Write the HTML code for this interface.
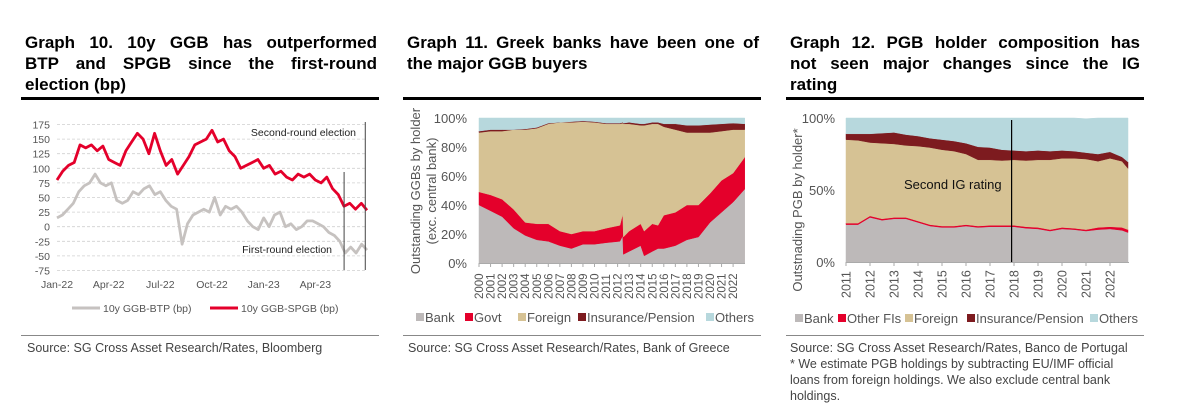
<!DOCTYPE html>
<html><head><meta charset="utf-8"><style>
body{margin:0;width:1192px;height:418px;background:#fff;overflow:hidden;font-family:"Liberation Sans",sans-serif;}
.t{position:absolute;font-weight:bold;font-size:17px;line-height:21px;color:#000;top:32px;}
.t div{text-align:justify;text-align-last:justify;white-space:nowrap;}
.t div.last{text-align-last:left;}
.rule{position:absolute;height:3px;background:#000;top:97px;}
.brule{position:absolute;height:1px;background:#888;top:335px;}
.src{position:absolute;top:340px;font-size:12.5px;line-height:16px;color:#444;}
svg{position:absolute;left:0;top:0;}
</style></head><body>
<div class="t" style="left:25px;width:352px"><div>Graph 10. 10y GGB has outperformed</div><div>BTP and SPGB since the first-round</div><div class="last">election (bp)</div></div>
<div class="t" style="left:407px;width:352px"><div>Graph 11. Greek banks have been one of</div><div class="last">the major GGB buyers</div></div>
<div class="t" style="left:790px;width:350px"><div>Graph 12. PGB holder composition has</div><div>not seen major changes since the IG</div><div class="last">rating</div></div>
<div class="rule" style="left:21px;width:358px"></div>
<div class="rule" style="left:403px;width:358px"></div>
<div class="rule" style="left:786px;width:358px"></div>
<div class="brule" style="left:21px;width:358px"></div>
<div class="brule" style="left:403px;width:358px"></div>
<div class="brule" style="left:786px;width:358px"></div>
<div class="src" style="left:27px">Source: SG Cross Asset Research/Rates, Bloomberg</div>
<div class="src" style="left:408px">Source: SG Cross Asset Research/Rates, Bank of Greece</div>
<div class="src" style="left:790px;width:350px">Source: SG Cross Asset Research/Rates, Banco de Portugal<br>* We estimate PGB holdings by subtracting EU/IMF official loans from foreign holdings. We also exclude central bank holdings.</div>
<svg id="svg" width="1192" height="418" xmlns="http://www.w3.org/2000/svg"></svg>
<script>
// Chart 1 data (biweekly, Jan-22 .. Jun-23)
const c1Spgb=[80,95,105,110,140,135,140,130,138,115,110,105,130,145,160,150,125,160,130,105,115,90,105,120,140,145,150,165,145,150,130,120,100,105,110,115,100,105,90,95,85,80,90,85,90,80,75,85,65,55,35,40,30,40,28];
const c1Btp=[15,20,30,40,60,70,75,90,75,70,75,45,40,45,60,55,65,70,55,60,45,35,30,-30,5,20,25,30,25,50,20,35,30,35,25,10,0,-5,15,0,20,25,0,5,-5,0,10,10,5,0,-10,-15,-25,-45,-35,-45,-30,-40];
const c1Ticks=[175,150,125,100,75,50,25,0,-25,-50,-75];
const c1Months=["Jan-22","Apr-22","Jul-22","Oct-22","Jan-23","Apr-23"];
const c1Events=[{label:"First-round election",m:16.67},{label:"Second-round election",m:17.9}];
// Chart 2 data
const c2Years=[2000,2001,2002,2003,2004,2005,2006,2007,2008,2009,2010,2011,2012,2013,2014,2015,2016,2017,2018,2019,2020,2021,2022];
const c2T=[2000,2001,2002,2003,2004,2005,2006,2007,2008,2009,2010,2011,2012.2,2012.45,2012.5,2013,2014,2014.3,2015,2015.5,2016,2017,2018,2019,2020,2021,2022,2023];
const c2Bank=[40,36,32,24,19,16,15,12,10,13,13,14,15,19,6,8,12,5,8,10,10,12,16,18,28,35,42,51];
const c2Govt=[9,11,12,13,9,11,12,10,10,9,9,10,11,15,12,14,15,17,19,16,23,23,24,22,20,22,20,22];
const c2Foreign=[41,44,47,55,64,66,69,75,77,75.5,75,72,70,62.5,78,74,68,73,69,70,61,57,50,50,42,34,30,19];
const c2Ins=[1,1,1,0,0.5,0.5,0.5,0,0.5,0.5,0.5,0.5,0.5,0.5,0.5,1,1,1,1,1,2,4,5,5,5.5,5,4.5,4];
const c2Others=[9,8,8,8,7.5,6.5,3.5,3,2.5,2,2.5,3.5,3.5,3,3.5,3,4,4,3,3,4,4,5,5,4.5,4,3.5,4];
// Chart 3 data
const c3Years=[2011,2012,2013,2014,2015,2016,2017,2018,2019,2020,2021,2022];
const c3T=[2011,2011.5,2012,2012.5,2013,2013.5,2014,2014.5,2015,2015.5,2016,2016.5,2017,2017.5,2018,2018.5,2019,2019.5,2020,2020.5,2021,2021.5,2022,2022.5,2022.75];
const c3Bank=[26,26,31,29,30,30,27.5,25,24,24,25,24,24.5,24.5,24.5,23.5,23,21.5,23,22.5,21.5,22.5,23,22,20.5];
const c3Fi=[1,1,1,1,1,1,1,1,1,1,1,1,1,1,1,1,1,1,1,1,1,1.5,1.5,2,2];
const c3Foreign=[58,57.5,51,52.5,51,50,52,53.5,53,52,49,46,45.5,45,45.5,46,47,48.5,48,48.5,49,46,47.5,46,42.5];
const c3Ins=[4,4.5,6,7,8,7.5,7,6.5,7,7,7.5,9,8.5,7.5,6.5,6.5,6.5,6,5.5,5,4.5,5,4.5,3,4.5];
const c3Others=[11,11,11,10.5,10,11.5,12.5,14,15,16,17.5,20,20.5,22,22.5,23,22.5,23,22.5,23,23.5,25,23.5,27,30.5];

const NS="http://www.w3.org/2000/svg",svg=document.getElementById('svg');
function mk(tag,attrs,parent){const e=document.createElementNS(NS,tag);for(const k in attrs)e.setAttribute(k,attrs[k]);(parent||svg).appendChild(e);return e;}
function txt(s,attrs,parent){const e=mk('text',attrs,parent);e.textContent=s;return e;}
const COL={bank:"#bdb9b9",govt:"#e4002b",foreign:"#d6c294",ins:"#7d1b1f",others:"#b7d8dd"};

// ---- Chart 1
const x1=m=>57+m*(310/18), y1=v=>226.7-v*(14.6/25);
c1Ticks.forEach(v=>{
 const g=mk('line',{x1:57,x2:367,y1:y1(v),y2:y1(v),stroke:"#d0d0d0","stroke-dasharray":"3,2","stroke-width":0.8});
 
 const t=txt(String(v),{x:50,y:y1(v)+4,"text-anchor":"end","font-size":10.5,fill:"#555"});
 
});
c1Months.forEach((s,i)=>{const t=txt(s,{x:x1(i*3),y:288,"text-anchor":"middle","font-size":10.5,fill:"#555"});
 });
function line1(arr,col,name){const d=arr.map((v,i)=>(i?'L':'M')+x1(i*18/(arr.length-1)).toFixed(1)+','+y1(v).toFixed(1)).join('');
 const p=mk('path',{d,fill:"none",stroke:col,"stroke-width":2.8,"stroke-linejoin":"round"});}
line1(c1Btp,"#c6c2c0",'btp-spread-line');
line1(c1Spgb,"#e4002b",'spgb-spread-line');
let e0=mk('line',{x1:x1(c1Events[0].m),x2:x1(c1Events[0].m),y1:172,y2:270,stroke:"#444","stroke-width":1});

let e1=mk('line',{x1:x1(c1Events[1].m),x2:x1(c1Events[1].m),y1:122,y2:270,stroke:"#444","stroke-width":1});

let a1=txt(c1Events[0].label,{x:332,y:253,"text-anchor":"end","font-size":10.5,fill:"#222"});

let a2=txt(c1Events[1].label,{x:356,y:136,"text-anchor":"end","font-size":10.5,fill:"#222"});

[[72,"#c6c2c0","10y GGB-BTP (bp)",'legend-btp'],[210,"#e4002b","10y GGB-SPGB (bp)",'legend-spgb']].forEach(([x,c,s,n])=>{
 const l=mk('line',{x1:x,x2:x+28,y1:308,y2:308,stroke:c,"stroke-width":3});
 const t=txt(s,{x:x+31,y:312,"font-size":10.5,fill:"#555"});});

// stacked area helper
function stack(T,layers,xf,yf,prefix){
 let base=T.map(()=>0);
 layers.forEach(([arr,col,name])=>{
  const top=base.map((b,i)=>b+arr[i]);
  let d=T.map((t,i)=>(i?'L':'M')+xf(t).toFixed(1)+','+yf(top[i]).toFixed(1)).join('');
  for(let i=T.length-1;i>=0;i--)d+='L'+xf(T[i]).toFixed(1)+','+yf(base[i]).toFixed(1);
  const p=mk('path',{d:d+'Z',fill:col,stroke:col,"stroke-width":0.5});
  
  base=top;});
}
function legend(items,y,prefix){items.forEach(([x,col,s])=>{
 const r=mk('rect',{x,y:y-9,width:8,height:8,fill:col});
 const t=txt(s,{x:x+9,y,"font-size":13,fill:"#555"});});}

// ---- Chart 2
const x2=t=>479+(t-2000)*11.55, y2=v=>263-v*1.45;
stack(c2T,[[c2Bank,COL.bank,'bank'],[c2Govt,COL.govt,'govt'],[c2Foreign,COL.foreign,'foreign'],[c2Ins,COL.ins,'insurance'],[c2Others,COL.others,'others']],x2,y2,'c2');
[0,20,40,60,80,100].forEach(v=>{const t=txt(v+'%',{x:467,y:y2(v)+5,"text-anchor":"end","font-size":13,fill:"#555"});
 });
mk('line',{x1:479,x2:745,y1:263.5,y2:263.5,stroke:"#aaa","stroke-width":1});
c2Years.forEach(yr=>{const x=x2(yr);mk('line',{x1:x,x2:x,y1:263,y2:267,stroke:"#aaa"});
 const t=txt(String(yr),{x:0,y:0,transform:`translate(${x+4},299) rotate(-90)`,"font-size":11.5,fill:"#555"});
 });
let yt2=txt("Outstanding GGBs by holder",{x:0,y:0,transform:"translate(420,191) rotate(-90)","text-anchor":"middle","font-size":13,fill:"#555"});

let yt2b=txt("(exc. central bank)",{x:0,y:0,transform:"translate(436,191) rotate(-90)","text-anchor":"middle","font-size":13,fill:"#555"});

legend([[416,COL.bank,"Bank"],[465,COL.govt,"Govt"],[518,COL.foreign,"Foreign"],[578,COL.ins,"Insurance/Pension"],[706,COL.others,"Others"]],322,'c2');

// ---- Chart 3
const x3=t=>846+(t-2011)*24, y3=v=>262-v*1.44;
stack(c3T,[[c3Bank,COL.bank,'bank'],[c3Fi,COL.govt,'other-fis'],[c3Foreign,COL.foreign,'foreign'],[c3Ins,COL.ins,'insurance'],[c3Others,COL.others,'others']],x3,y3,'c3');
[0,50,100].forEach(v=>{const t=txt(v+'%',{x:835,y:y3(v)+5,"text-anchor":"end","font-size":13,fill:"#555"});
 });
mk('line',{x1:846,x2:1129,y1:262.5,y2:262.5,stroke:"#aaa","stroke-width":1});
c3Years.forEach(yr=>{const x=x3(yr);mk('line',{x1:x,x2:x,y1:262,y2:266,stroke:"#aaa"});
 const t=txt(String(yr),{x:0,y:0,transform:`translate(${x+4.5},298) rotate(-90)`,"font-size":12.5,fill:"#555"});
 });
let ig=mk('line',{x1:x3(2017.9),x2:x3(2017.9),y1:120,y2:262,stroke:"#000","stroke-width":1.2});

let igt=txt("Second IG rating",{x:904,y:189,"font-size":13,fill:"#111"});

let yt3=txt("Outstnading PGB by holder*",{x:0,y:0,transform:"translate(802,210) rotate(-90)","text-anchor":"middle","font-size":13,fill:"#555"});

legend([[795,COL.bank,"Bank"],[838,COL.govt,"Other FIs"],[905,COL.foreign,"Foreign"],[967,COL.ins,"Insurance/Pension"],[1090,COL.others,"Others"]],323,'c3');
</script>
</body></html>
